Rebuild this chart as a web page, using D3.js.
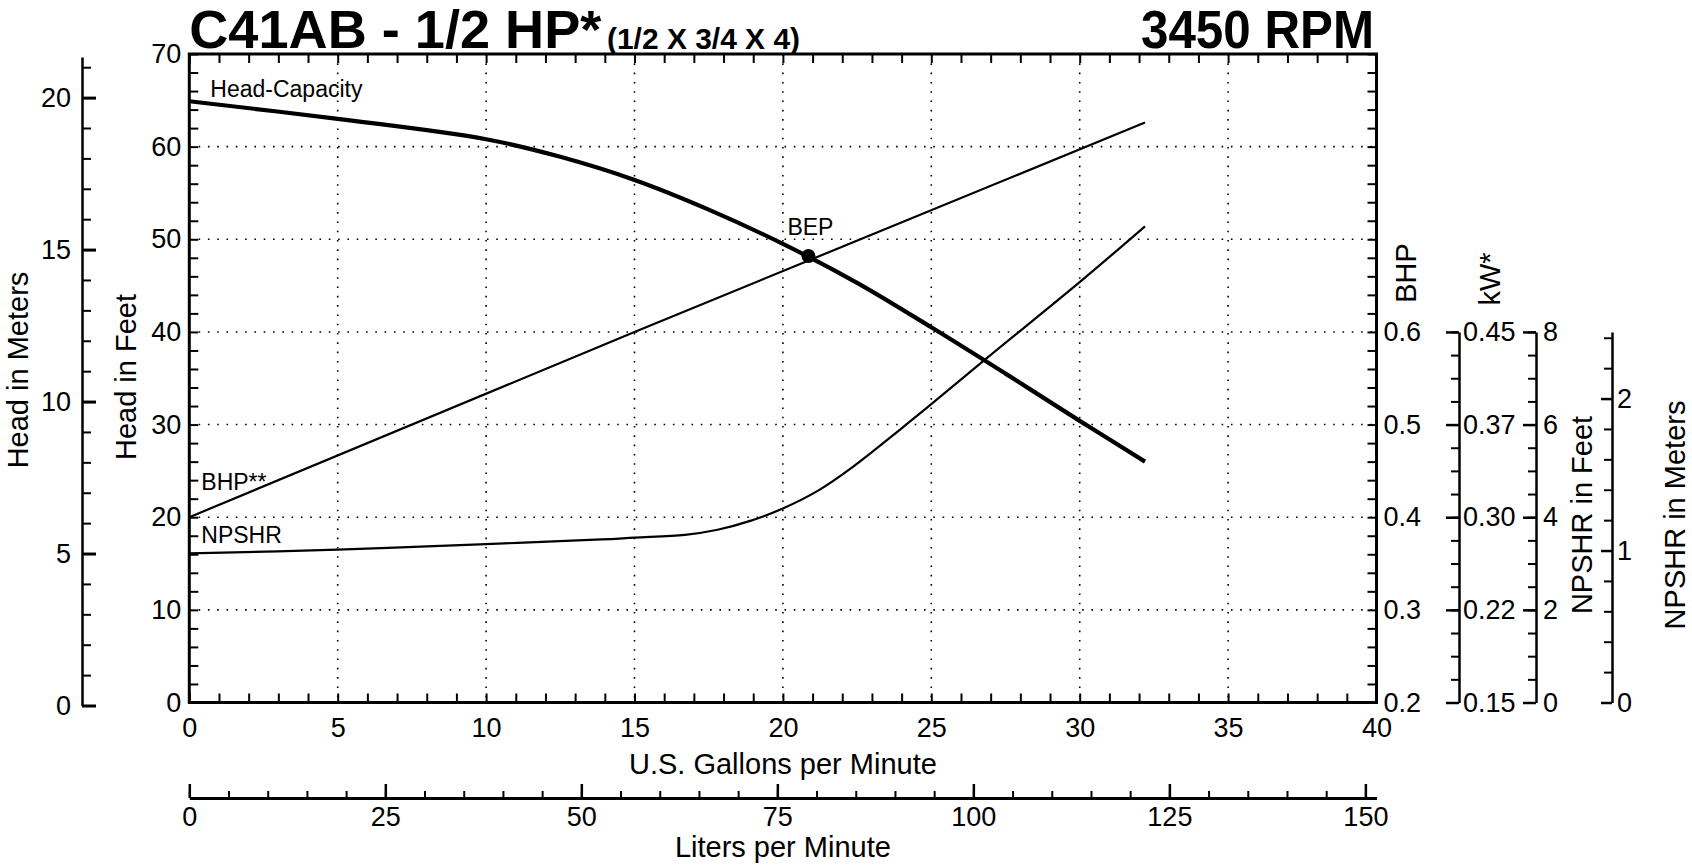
<!DOCTYPE html>
<html>
<head>
<meta charset="utf-8">
<script src="https://cdn.jsdelivr.net/npm/d3@7"></script>
<style>
body { margin: 0; background: #fff; }
svg text { font-family: "Liberation Sans", Arial, Helvetica, sans-serif; fill: #000; }
</style>
</head>
<body>
<svg width="1692" height="867"></svg>
<script>
// flow in U.S. gpm
var headGpm = [0, 5, 10, 12.5, 15, 17.5, 20, 22.5, 25, 27.5, 30, 32.2];
var headFt  = [64.9, 63.0, 60.8, 58.9, 56.4, 53.2, 49.5, 45.3, 40.5, 35.5, 30.4, 26.0];

var bhpGpm = [0, 15, 32.2];
var bhpVal = [0.40, 0.60, 0.826];

var npshrGpm = [0, 5, 10, 13.9, 15, 16.7, 17.8, 18.9, 20, 21.2, 22.3, 24, 25, 26.9, 30.1, 32.2];
var npshrFt  = [3.22, 3.30, 3.42, 3.52, 3.56, 3.62, 3.73, 3.92, 4.19, 4.58, 5.06, 5.92, 6.44, 7.45, 9.13, 10.28];

var bepGpm = 20.86;
var bepFt = 48.2;

var gpmTicks = [0, 5, 10, 15, 20, 25, 30, 35, 40];
var literTicks = [0, 25, 50, 75, 100, 125, 150];
var feetTicks = [0, 10, 20, 30, 40, 50, 60, 70];
var meterTicks = [0, 5, 10, 15, 20];
var bhpTicks = [0.2, 0.3, 0.4, 0.5, 0.6];
var kwLabels = ["0.15", "0.22", "0.30", "0.37", "0.45"];
var npshrFtTicks = [0, 2, 4, 6, 8];
var npshrMTicks = [0, 1, 2];

var x0 = 189.3, x1 = 1376.5, y0 = 54, y1 = 702.5;

var svg = d3.select("svg");

var x = d3.scaleLinear().domain([0, 40]).range([x0, x1]);
var xL = d3.scaleLinear().domain([0, 40 * 3.78541]).range([x0, x1]);
var yFt = d3.scaleLinear().domain([0, 70]).range([y1, y0]);
var yM = d3.scaleLinear().domain([0, 70 * 0.3048]).range([y1, y0]);
var yBhp = d3.scaleLinear().domain([0.2, 0.6]).range([yFt(0), yFt(40)]);
var yNft = d3.scaleLinear().domain([0, 8]).range([yFt(0), yFt(40)]);
var yNm = d3.scaleLinear().domain([0, 8 * 0.3048]).range([yFt(0), yFt(40)]);

function axisG(gen, tx, ty, size, width, keepDomain) {
  var g = svg.append("g")
     .attr("transform", "translate(" + tx + "," + ty + ")")
     .call(gen)
     .attr("font-size", size)
     .attr("font-family", null);
  g.selectAll(".tick line").attr("stroke", "#000").attr("stroke-width", width);
  if (keepDomain) {
    g.select(".domain").attr("stroke", "#000").attr("stroke-width", keepDomain);
  } else {
    g.select(".domain").remove();
  }
  return g;
}

// dotted grid
svg.selectAll(".vgrid")
   .data(gpmTicks.filter(function(d) { return d > 0 && d < 40; }))
   .enter()
   .append("line")
   .attr("x1", function(d) { return x(d); })
   .attr("x2", function(d) { return x(d); })
   .attr("y1", y0)
   .attr("y2", y1)
   .attr("stroke", "#000")
   .attr("stroke-width", 1.6)
   .attr("stroke-dasharray", "1.6,7.7");

svg.selectAll(".hgrid")
   .data(feetTicks.filter(function(d) { return d > 0 && d < 70; }))
   .enter()
   .append("line")
   .attr("x1", x0)
   .attr("x2", x1)
   .attr("y1", function(d) { return yFt(d); })
   .attr("y2", function(d) { return yFt(d); })
   .attr("stroke", "#000")
   .attr("stroke-width", 1.6)
   .attr("stroke-dasharray", "1.6,7.7");

// inner ticks on the frame
axisG(d3.axisBottom(x).tickValues(d3.range(0, 41)).tickSize(-9).tickFormat(""), 0, y1, 10, 2);
axisG(d3.axisTop(x).tickValues(d3.range(0, 41)).tickSize(-9).tickFormat(""), 0, y0, 10, 2);
axisG(d3.axisLeft(yFt).tickValues(d3.range(0, 71, 2)).tickSize(-9).tickFormat(""), x0, 0, 10, 2);
axisG(d3.axisRight(yFt).tickValues(d3.range(0, 71, 2)).tickSize(-9).tickFormat(""), x1, 0, 10, 2);

// frame labels
axisG(d3.axisBottom(x).tickValues(gpmTicks).tickSize(0).tickPadding(15), 0, y1, 27, 0);
axisG(d3.axisLeft(yFt).tickValues(feetTicks).tickSize(0).tickPadding(8), x0, 0, 27, 0);
axisG(d3.axisRight(yBhp).tickValues(bhpTicks).tickSize(0).tickPadding(7)
        .tickFormat(d3.format(".1f")), x1, 0, 27, 0);

svg.append("rect")
   .attr("x", x0)
   .attr("y", y0)
   .attr("width", x1 - x0)
   .attr("height", y1 - y0)
   .attr("fill", "none")
   .attr("stroke", "#000")
   .attr("stroke-width", 3);

// head in meters (left)
axisG(d3.axisLeft(yM).tickValues(d3.range(0, 21.5, 1)).tickSizeInner(-9).tickSizeOuter(0).tickFormat(""), 82, 3, 10, 2);
axisG(d3.axisLeft(yM).tickValues(meterTicks).tickSizeInner(-14).tickSizeOuter(0).tickPadding(11), 82, 3, 27, 3, 2.5);

// kW, NPSHR ft, NPSHR m (right)
axisG(d3.axisRight(yBhp).tickValues(d3.range(0.2, 0.6001, 0.025)).tickSizeInner(-8).tickSizeOuter(0).tickFormat(""), 1459, 0, 10, 2);
axisG(d3.axisRight(yBhp).tickValues(bhpTicks).tickSizeInner(-13).tickSizeOuter(0).tickPadding(4)
        .tickFormat(function(d, i) { return kwLabels[i]; }), 1459, 0, 27, 2.5, 2.5);

axisG(d3.axisRight(yNft).tickValues(d3.range(0, 8.01, 0.5)).tickSizeInner(-8).tickSizeOuter(0).tickFormat(""), 1536, 0, 10, 2);
axisG(d3.axisRight(yNft).tickValues(npshrFtTicks).tickSizeInner(-13).tickSizeOuter(0).tickPadding(7), 1536, 0, 27, 2.5, 2.5);

axisG(d3.axisRight(yNm).tickValues(d3.range(0, 2.44, 0.2)).tickSizeInner(-8).tickSizeOuter(0).tickFormat(""), 1612, 0, 10, 2);
axisG(d3.axisRight(yNm).tickValues(npshrMTicks).tickSizeInner(-11).tickSizeOuter(0).tickPadding(5)
        .tickFormat(d3.format("d")), 1612, 0, 27, 2.5, 2.5);

// liters per minute (bottom)
axisG(d3.axisBottom(xL).tickValues(d3.range(0, 151, 5)).tickSizeInner(-7).tickSizeOuter(0).tickFormat(""), 0, 798, 10, 2);
axisG(d3.axisBottom(xL).tickValues(literTicks).tickSizeInner(-14).tickSizeOuter(0).tickPadding(9), 0, 798, 27, 2.5, 3);

// curves
var headLine = d3.line()
    .x(function(d) { return x(d[0]); })
    .y(function(d) { return yFt(d[1]); })
    .curve(d3.curveCatmullRom.alpha(0.5));

svg.append("path")
   .attr("d", headLine(d3.zip(headGpm, headFt)))
   .attr("fill", "none")
   .attr("stroke", "#000")
   .attr("stroke-width", 4.2);

var bhpLine = d3.line()
    .x(function(d) { return x(d[0]); })
    .y(function(d) { return yBhp(d[1]); });

svg.append("path")
   .attr("d", bhpLine(d3.zip(bhpGpm, bhpVal)))
   .attr("fill", "none")
   .attr("stroke", "#000")
   .attr("stroke-width", 2.2);

var npshrLine = d3.line()
    .x(function(d) { return x(d[0]); })
    .y(function(d) { return yNft(d[1]); })
    .curve(d3.curveCatmullRom.alpha(0.5));

svg.append("path")
   .attr("d", npshrLine(d3.zip(npshrGpm, npshrFt)))
   .attr("fill", "none")
   .attr("stroke", "#000")
   .attr("stroke-width", 2.2);

svg.append("circle")
   .attr("cx", x(bepGpm))
   .attr("cy", yFt(bepFt))
   .attr("r", 7)
   .attr("fill", "#000");

// curve labels
function label(txt, lx, ly, size) {
  svg.append("text")
     .attr("x", lx)
     .attr("y", ly)
     .attr("font-size", size)
     .text(txt);
}
label("Head-Capacity", x(0) + 21, 97, 23);
label("BEP", x(bepGpm) - 21, yFt(bepFt) - 21, 23);
label("BHP**", x(0) + 12, 490, 23);
label("NPSHR", x(0) + 12, 543, 23);

// axis titles
function rotLabel(txt, bx, cy) {
  svg.append("text")
     .attr("transform", "translate(" + bx + "," + cy + ") rotate(-90)")
     .attr("text-anchor", "middle")
     .attr("font-size", 29)
     .text(txt);
}
rotLabel("Head in Meters", 28, 370);
rotLabel("Head in Feet", 136, 377);
rotLabel("BHP", 1416, 273);
rotLabel("kW*", 1500, 279);
rotLabel("NPSHR in Feet", 1592, 515);
rotLabel("NPSHR in Meters", 1685, 515);

svg.append("text")
   .attr("x", (x0 + x1) / 2)
   .attr("y", 774)
   .attr("text-anchor", "middle")
   .attr("font-size", 29)
   .text("U.S. Gallons per Minute");

svg.append("text")
   .attr("x", (x0 + x1) / 2)
   .attr("y", 857)
   .attr("text-anchor", "middle")
   .attr("font-size", 29)
   .text("Liters per Minute");

// title
svg.append("text")
   .attr("x", x0)
   .attr("y", 48)
   .attr("font-size", 54)
   .attr("font-weight", "bold")
   .attr("textLength", 412)
   .attr("lengthAdjust", "spacingAndGlyphs")
   .text("C41AB - 1/2 HP*");

svg.append("text")
   .attr("x", 607)
   .attr("y", 49)
   .attr("font-size", 30)
   .attr("font-weight", "bold")
   .attr("textLength", 193)
   .attr("lengthAdjust", "spacingAndGlyphs")
   .text("(1/2 X 3/4 X 4)");

svg.append("text")
   .attr("x", 1374)
   .attr("y", 48)
   .attr("text-anchor", "end")
   .attr("font-size", 54)
   .attr("font-weight", "bold")
   .attr("textLength", 233)
   .attr("lengthAdjust", "spacingAndGlyphs")
   .text("3450 RPM");
</script>
</body>
</html>
